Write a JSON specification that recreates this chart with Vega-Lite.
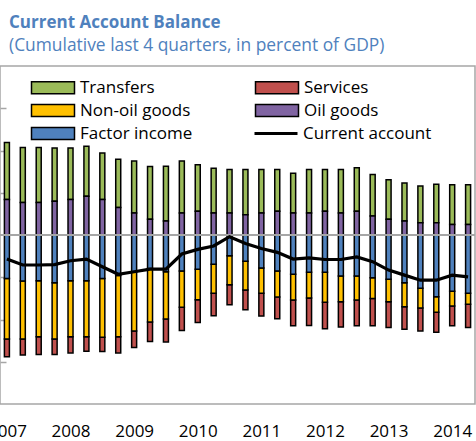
{
  "$schema": "https://vega.github.io/schema/vega-lite/v6.json",
  "width": 475,
  "height": 338,
  "autosize": {"type": "none"},
  "padding": {"left": 0, "top": 66, "right": 1, "bottom": 37},
  "config": {"font": "Open Sans", "view": {"stroke": "#a6a6a6", "strokeWidth": 1.5}},
  "title": {
    "text": "Current Account Balance",
    "subtitle": "(Cumulative last 4 quarters, in percent of GDP)",
    "anchor": "start", "frame": "group", "dx": 9, "offset": 11,
    "fontSize": 17, "fontWeight": "bold", "color": "#4f81bd",
    "subtitleFontSize": 17.4, "subtitleColor": "#4f81bd", "subtitlePadding": 5
  },
  "data": {"values": [
    {"t": 2007.00, "Transfers": 13.5, "Services": -4.2, "Non-oil goods": -14.3, "Oil goods": 8.4, "Factor income": -10.3, "Current account": -5.7},
    {"t": 2007.25, "Transfers": 13.0, "Services": -3.8, "Non-oil goods": -13.7, "Oil goods": 7.7, "Factor income": -10.9, "Current account": -7.1},
    {"t": 2007.50, "Transfers": 13.0, "Services": -4.2, "Non-oil goods": -13.3, "Oil goods": 7.7, "Factor income": -10.8, "Current account": -7.1},
    {"t": 2007.75, "Transfers": 12.6, "Services": -3.7, "Non-oil goods": -13.3, "Oil goods": 8.0, "Factor income": -11.3, "Current account": -7.0},
    {"t": 2008.00, "Transfers": 12.2, "Services": -3.8, "Non-oil goods": -13.3, "Oil goods": 8.4, "Factor income": -10.8, "Current account": -6.1},
    {"t": 2008.25, "Transfers": 11.8, "Services": -3.4, "Non-oil goods": -13.3, "Oil goods": 9.2, "Factor income": -10.8, "Current account": -5.7},
    {"t": 2008.50, "Transfers": 11.0, "Services": -3.4, "Non-oil goods": -13.9, "Oil goods": 8.4, "Factor income": -10.3, "Current account": -7.5},
    {"t": 2008.75, "Transfers": 11.4, "Services": -3.8, "Non-oil goods": -14.5, "Oil goods": 6.5, "Factor income": -9.6, "Current account": -9.3},
    {"t": 2009.00, "Transfers": 12.3, "Services": -3.9, "Non-oil goods": -14.0, "Oil goods": 5.2, "Factor income": -8.7, "Current account": -8.7},
    {"t": 2009.25, "Transfers": 12.5, "Services": -4.6, "Non-oil goods": -12.7, "Oil goods": 3.7, "Factor income": -7.9, "Current account": -8.1},
    {"t": 2009.50, "Transfers": 13.0, "Services": -5.4, "Non-oil goods": -11.2, "Oil goods": 3.3, "Factor income": -8.7, "Current account": -8.1},
    {"t": 2009.75, "Transfers": 12.3, "Services": -5.5, "Non-oil goods": -8.6, "Oil goods": 5.2, "Factor income": -8.5, "Current account": -4.5},
    {"t": 2010.00, "Transfers": 11.0, "Services": -5.4, "Non-oil goods": -7.2, "Oil goods": 5.6, "Factor income": -8.1, "Current account": -3.4},
    {"t": 2010.25, "Transfers": 10.6, "Services": -5.3, "Non-oil goods": -6.9, "Oil goods": 5.2, "Factor income": -6.9, "Current account": -2.6},
    {"t": 2010.50, "Transfers": 10.3, "Services": -4.7, "Non-oil goods": -6.9, "Oil goods": 5.2, "Factor income": -4.9, "Current account": -0.4},
    {"t": 2010.75, "Transfers": 10.7, "Services": -4.7, "Non-oil goods": -6.8, "Oil goods": 4.8, "Factor income": -6.2, "Current account": -2.0},
    {"t": 2011.00, "Transfers": 10.3, "Services": -5.4, "Non-oil goods": -6.0, "Oil goods": 5.2, "Factor income": -7.8, "Current account": -3.2},
    {"t": 2011.25, "Transfers": 9.9, "Services": -5.1, "Non-oil goods": -6.2, "Oil goods": 5.6, "Factor income": -8.5, "Current account": -4.1},
    {"t": 2011.50, "Transfers": 9.4, "Services": -6.1, "Non-oil goods": -6.1, "Oil goods": 5.2, "Factor income": -9.3, "Current account": -5.7},
    {"t": 2011.75, "Transfers": 10.3, "Services": -6.5, "Non-oil goods": -6.1, "Oil goods": 5.2, "Factor income": -8.8, "Current account": -5.4},
    {"t": 2012.00, "Transfers": 9.9, "Services": -6.3, "Non-oil goods": -7.1, "Oil goods": 5.6, "Factor income": -8.8, "Current account": -5.8},
    {"t": 2012.25, "Transfers": 10.3, "Services": -6.0, "Non-oil goods": -6.1, "Oil goods": 5.2, "Factor income": -9.7, "Current account": -5.8},
    {"t": 2012.50, "Transfers": 10.3, "Services": -6.1, "Non-oil goods": -5.7, "Oil goods": 5.6, "Factor income": -9.7, "Current account": -5.2},
    {"t": 2012.75, "Transfers": 9.8, "Services": -6.5, "Non-oil goods": -4.9, "Oil goods": 4.5, "Factor income": -10.1, "Current account": -6.3},
    {"t": 2013.00, "Transfers": 9.4, "Services": -6.1, "Non-oil goods": -5.3, "Oil goods": 3.7, "Factor income": -10.5, "Current account": -8.3},
    {"t": 2013.25, "Transfers": 9.0, "Services": -5.3, "Non-oil goods": -5.7, "Oil goods": 3.3, "Factor income": -11.3, "Current account": -9.5},
    {"t": 2013.50, "Transfers": 8.7, "Services": -5.4, "Non-oil goods": -4.7, "Oil goods": 2.9, "Factor income": -12.6, "Current account": -10.7},
    {"t": 2013.75, "Transfers": 9.1, "Services": -4.7, "Non-oil goods": -3.7, "Oil goods": 2.9, "Factor income": -14.6, "Current account": -10.7},
    {"t": 2014.00, "Transfers": 9.4, "Services": -4.7, "Non-oil goods": -3.5, "Oil goods": 2.5, "Factor income": -13.3, "Current account": -9.5},
    {"t": 2014.25, "Transfers": 9.4, "Services": -5.5, "Non-oil goods": -2.6, "Oil goods": 2.5, "Factor income": -13.8, "Current account": -9.9}
  ]},
  "layer": [
    {
      "transform": [{"fold": ["Transfers", "Services", "Non-oil goods", "Oil goods", "Factor income"], "as": ["series", "v"]}],
      "mark": {"type": "bar", "size": 5, "stroke": "black", "strokeWidth": 1.5, "clip": true},
      "encoding": {
        "x": {
          "field": "t", "type": "quantitative",
          "scale": {"domain": [2006.97, 2014.28], "nice": false, "zero": false},
          "axis": {"values": [2007, 2008, 2009, 2010, 2011, 2012, 2013, 2014], "format": "d", "labelFontSize": 17, "labelColor": "black", "labelPadding": 19, "ticks": false, "domain": false, "grid": false, "title": null, "labelFlush": false, "labelOverlap": false, "labelBound": false}
        },
        "y": {
          "field": "v", "type": "quantitative", "stack": "zero",
          "scale": {"domain": [-40, 40], "nice": false},
          "axis": {"labels": false, "domain": false, "grid": false, "ticks": true, "tickSize": -6, "tickColor": "#a6a6a6", "tickWidth": 1.5, "values": [-30, -20, -10, 10, 20, 30], "title": null}
        },
        "fill": {
          "field": "series", "type": "nominal",
          "scale": {"domain": ["Transfers", "Services", "Non-oil goods", "Oil goods", "Factor income"], "range": ["#9bbb59", "#c0504d", "#ffc000", "#8064a2", "#4f81bd"]},
          "legend": {
            "orient": "none", "legendX": 44.5, "legendY": 13, "direction": "horizontal", "columns": 2, "columnPadding": 60, "rowPadding": 4,
            "title": null, "labelFontSize": 17, "labelColor": "black", "labelOffset": 18.5, "labelLimit": 300,
            "symbolType": "M-3.583,-1H3.583V1H-3.583Z", "symbolSize": 144, "symbolStrokeColor": "black", "symbolStrokeWidth": 1.5, "symbolOpacity": 1, "padding": 0
          }
        },
        "order": {"field": "series", "sort": "ascending"}
      }
    },
    {
      "mark": {"type": "rule", "color": "#a6a6a6", "strokeWidth": 1.5},
      "encoding": {"y": {"datum": 0}}
    },
    {
      "mark": {"type": "line", "strokeWidth": 3.2, "clip": true},
      "encoding": {
        "x": {"field": "t", "type": "quantitative", "axis": {"orient": "bottom", "offset": -169, "values": [2008, 2009, 2010, 2011, 2012, 2013, 2014], "labels": false, "domain": false, "grid": false, "ticks": true, "tickSize": -4, "tickColor": "#a6a6a6", "tickWidth": 1.5, "title": null}},
        "y": {"field": "Current account", "type": "quantitative"},
        "stroke": {
          "datum": "Current account", "type": "nominal",
          "scale": {"range": ["#000000"]},
          "legend": {
            "orient": "none", "legendX": 267.5, "legendY": 59, "title": null,
            "labelFontSize": 17, "labelColor": "black", "labelOffset": 18.5, "labelLimit": 300,
            "symbolType": "M-3.583,0H3.583", "symbolSize": 144, "symbolStrokeWidth": 3, "symbolStrokeColor": "black", "padding": 0
          }
        }
      }
    }
  ],
  "resolve": {"axis": {"x": "independent"}}
}
